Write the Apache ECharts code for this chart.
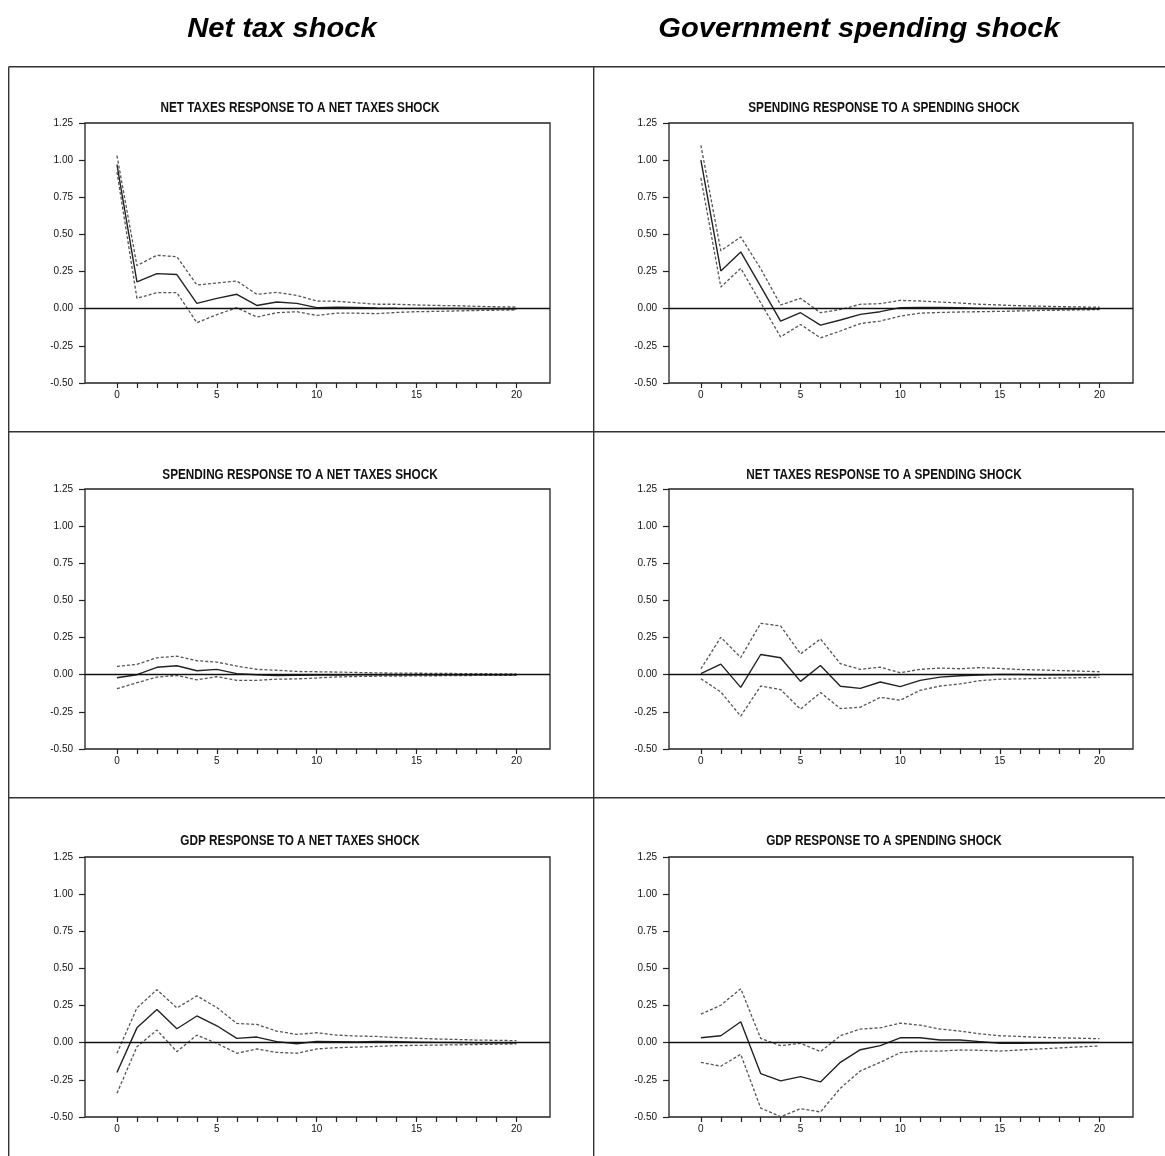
<!DOCTYPE html>
<html>
<head>
<meta charset="utf-8">
<script src="https://cdn.jsdelivr.net/npm/echarts@6/dist/echarts.min.js"></script>
<style>
html,body{margin:0;padding:0;background:#fff;}
#chart{width:1165px;height:1156px;}
</style>
</head>
<body>
<div id="chart"></div>
<script>
// Horizons (quarters after shock)
const horizons = [0,1,2,3,4,5,6,7,8,9,10,11,12,13,14,15,16,17,18,19,20];
const xTickValues = [0,1,2,3,4,5,6,7,8,9,10,11,12,13,14,15,16,17,18,19,20];
const xLabelValues = [0,5,10,15,20];

const columnHeaders = ['Net tax shock', 'Government spending shock'];
const panelTitles = [
  'NET TAXES RESPONSE TO A NET TAXES SHOCK',
  'SPENDING RESPONSE TO A SPENDING SHOCK',
  'SPENDING RESPONSE TO A NET TAXES SHOCK',
  'NET TAXES RESPONSE TO A SPENDING SHOCK',
  'GDP RESPONSE TO A NET TAXES SHOCK',
  'GDP RESPONSE TO A SPENDING SHOCK'
];

// Panel 1: net taxes response to a net taxes shock
const taxTax_mid = [0.97,0.18,0.236,0.23,0.036,0.07,0.097,0.022,0.045,0.036,0.007,0.011,0.009,0.005,0.003,0.002,0.001,0.001,0.0,0.0,0.0];
const taxTax_up  = [1.03,0.29,0.36,0.35,0.16,0.173,0.187,0.097,0.11,0.09,0.052,0.05,0.04,0.03,0.03,0.025,0.022,0.02,0.016,0.013,0.011];
const taxTax_lo  = [0.92,0.07,0.108,0.108,-0.094,-0.04,0.007,-0.056,-0.027,-0.02,-0.045,-0.03,-0.03,-0.033,-0.025,-0.02,-0.018,-0.015,-0.012,-0.01,-0.008];

// Panel 2: spending response to a spending shock
const spSp_mid = [1.0,0.254,0.382,0.15,-0.083,-0.027,-0.11,-0.076,-0.038,-0.02,0.007,0.009,0.008,0.006,0.004,0.002,0.001,0.001,0.0,0.0,0.0];
const spSp_up  = [1.10,0.39,0.483,0.27,0.025,0.07,-0.027,-0.005,0.03,0.034,0.056,0.052,0.045,0.038,0.03,0.025,0.02,0.017,0.014,0.012,0.01];
const spSp_lo  = [0.88,0.146,0.272,0.04,-0.19,-0.106,-0.196,-0.15,-0.1,-0.083,-0.05,-0.03,-0.025,-0.022,-0.02,-0.018,-0.015,-0.012,-0.01,-0.008,-0.006];

// Panel 3: spending response to a net taxes shock
const spTax_mid = [-0.02,0.0,0.05,0.06,0.027,0.036,0.007,0.0,-0.005,-0.004,-0.003,-0.002,-0.001,0.0,0.0,0.0,0.0,0.0,0.0,0.0,0.0];
const spTax_up  = [0.056,0.07,0.114,0.125,0.094,0.085,0.058,0.036,0.03,0.022,0.02,0.018,0.015,0.012,0.011,0.01,0.009,0.008,0.007,0.006,0.005];
const spTax_lo  = [-0.094,-0.054,-0.016,-0.005,-0.034,-0.013,-0.038,-0.038,-0.03,-0.028,-0.022,-0.015,-0.012,-0.01,-0.009,-0.008,-0.007,-0.006,-0.005,-0.005,-0.004];

// Panel 4: net taxes response to a spending shock
const taxSp_mid = [0.007,0.071,-0.085,0.136,0.114,-0.045,0.062,-0.078,-0.092,-0.049,-0.08,-0.038,-0.016,-0.007,-0.002,0.002,0.001,0.0,0.0,0.0,0.0];
const taxSp_up  = [0.04,0.252,0.116,0.346,0.328,0.14,0.241,0.074,0.036,0.051,0.013,0.036,0.045,0.04,0.048,0.042,0.035,0.032,0.028,0.024,0.02];
const taxSp_lo  = [-0.027,-0.116,-0.279,-0.076,-0.1,-0.232,-0.12,-0.228,-0.219,-0.152,-0.172,-0.105,-0.076,-0.062,-0.04,-0.03,-0.028,-0.025,-0.022,-0.02,-0.018];

// Panel 5: GDP response to a net taxes shock
const gdpTax_mid = [-0.2,0.1,0.223,0.094,0.18,0.114,0.029,0.038,0.007,-0.007,0.009,0.007,0.005,0.008,0.006,0.004,0.002,0.001,0.0,0.0,0.0];
const gdpTax_up  = [-0.071,0.234,0.357,0.234,0.315,0.237,0.13,0.123,0.078,0.056,0.067,0.051,0.045,0.042,0.035,0.03,0.025,0.022,0.018,0.016,0.014];
const gdpTax_lo  = [-0.34,-0.027,0.085,-0.06,0.051,-0.004,-0.071,-0.042,-0.065,-0.071,-0.042,-0.033,-0.03,-0.025,-0.02,-0.018,-0.016,-0.014,-0.012,-0.01,-0.008];

// Panel 6: GDP response to a spending shock
const gdpSp_mid = [0.033,0.047,0.141,-0.208,-0.257,-0.228,-0.264,-0.132,-0.047,-0.02,0.033,0.033,0.018,0.018,0.007,-0.004,-0.004,-0.002,0.0,0.001,0.002];
const gdpSp_up  = [0.192,0.252,0.364,0.029,-0.02,-0.004,-0.06,0.047,0.092,0.1,0.132,0.118,0.092,0.078,0.06,0.047,0.042,0.036,0.033,0.03,0.027];
const gdpSp_lo  = [-0.132,-0.158,-0.078,-0.44,-0.498,-0.444,-0.466,-0.306,-0.19,-0.132,-0.067,-0.056,-0.056,-0.049,-0.051,-0.056,-0.049,-0.042,-0.035,-0.028,-0.022];

const panels = [
  [taxTax_mid, taxTax_up, taxTax_lo],
  [spSp_mid, spSp_up, spSp_lo],
  [spTax_mid, spTax_up, spTax_lo],
  [taxSp_mid, taxSp_up, taxSp_lo],
  [gdpTax_mid, gdpTax_up, gdpTax_lo],
  [gdpSp_mid, gdpSp_up, gdpSp_lo]
];

const FONT = '"Liberation Sans", Arial, Helvetica, sans-serif';
const gridLefts = [85, 669];
const gridWidths = [465, 464];
const gridTops = [123, 489, 857];
const gridHeight = 260;
const titleCenters = [300, 884];
const titleYs = [108, 475, 841];

const grids = [], xAxes = [], yAxes = [], series = [], graphics = [];

panels.forEach((p, i) => {
  const col = i % 2, row = Math.floor(i / 2);
  grids.push({
    left: gridLefts[col], top: gridTops[row], width: gridWidths[col], height: gridHeight,
    show: true, borderColor: '#222', borderWidth: 1.3, backgroundColor: 'transparent'
  });
  xAxes.push({
    type: 'value', gridIndex: i, min: -1.6, max: 21.68,
    axisLine: { show: false, onZero: false },
    splitLine: { show: false },
    axisTick: { show: true, inside: false, length: 5, customValues: xTickValues, lineStyle: { color: '#222', width: 1.2 } },
    axisLabel: { show: true, customValues: xLabelValues, margin: 7, fontFamily: FONT, fontSize: 10, color: '#111' }
  });
  yAxes.push({
    type: 'value', gridIndex: i, min: -0.5, max: 1.25, interval: 0.25,
    axisLine: { show: false, onZero: false },
    splitLine: { show: false },
    axisTick: { show: true, inside: false, length: 6, lineStyle: { color: '#222', width: 1.2 } },
    axisLabel: { show: true, margin: 12, fontFamily: FONT, fontSize: 10, color: '#111',
      formatter: v => v.toFixed(2) }
  });
  const mk = arr => horizons.map((h, k) => [h, arr[k]]);
  series.push({
    type: 'line', xAxisIndex: i, yAxisIndex: i, data: mk(p[1]), symbol: 'none', silent: true,
    lineStyle: { color: '#555', width: 1.3, type: [3, 2] }, z: 2
  });
  series.push({
    type: 'line', xAxisIndex: i, yAxisIndex: i, data: mk(p[2]), symbol: 'none', silent: true,
    lineStyle: { color: '#555', width: 1.3, type: [3, 2] }, z: 2
  });
  series.push({
    type: 'line', xAxisIndex: i, yAxisIndex: i, data: mk(p[0]), symbol: 'none', silent: true,
    lineStyle: { color: '#222', width: 1.4, type: 'solid' }, z: 3,
    markLine: {
      silent: true, symbol: 'none', label: { show: false },
      lineStyle: { color: '#111', width: 1.3, type: 'solid' },
      data: [{ yAxis: 0 }]
    }
  });
  graphics.push({
    type: 'text', x: titleCenters[col], y: titleYs[row], scaleX: 0.84,
    style: { text: panelTitles[i], fontFamily: FONT, fontWeight: 'bold', fontSize: 14,
      fill: '#111', align: 'center', verticalAlign: 'middle' }
  });
});

// Column headers
[282, 859].forEach((cx, j) => {
  graphics.push({
    type: 'text', x: cx, y: 29, scaleX: 1.04,
    style: { text: columnHeaders[j], fontFamily: FONT, fontWeight: 'bold',
      fontStyle: 'italic', fontSize: 28, fill: '#000', align: 'center', verticalAlign: 'middle' }
  });
});

// Frame lines
const frameStyle = { stroke: '#333', lineWidth: 1.4 };
[[8.7, 66.7, 1165, 66.7], [8.7, 431.7, 1165, 431.7], [8.7, 797.7, 1165, 797.7],
 [8.7, 66.7, 8.7, 1156], [593.7, 66.7, 593.7, 1156]].forEach(s => {
  graphics.push({ type: 'line', shape: { x1: s[0], y1: s[1], x2: s[2], y2: s[3] }, style: frameStyle, silent: true });
});

const chart = echarts.init(document.getElementById('chart'), null, { renderer: 'canvas' });
chart.setOption({
  animation: false,
  backgroundColor: '#fff',
  grid: grids, xAxis: xAxes, yAxis: yAxes, series: series, graphic: graphics
});
</script>
</body>
</html>
